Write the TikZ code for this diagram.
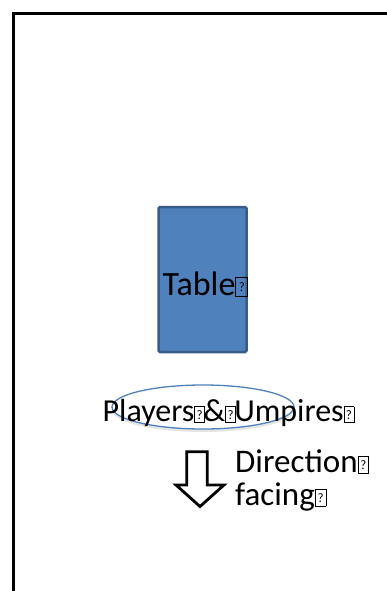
\documentclass[tikz,border=0pt]{standalone}
\usepackage{fontspec}
\setmainfont{Carlito}
\usetikzlibrary{shadows,shapes.geometric}
\definecolor{tblue}{HTML}{4F81BD}
\definecolor{tdark}{HTML}{385D8A}
\newcommand{\missbox}[2][15]{\makebox[#2pt][l]{\raisebox{-0.7pt}{\setlength\fboxsep{0pt}\setlength\fboxrule{0.8pt}\fbox{\parbox[b][#1pt][c]{#2pt}{\centering\fontsize{13}{13}\selectfont ?}}}}}
\tikzset{
  lbl/.style={font=\fontsize{32}{34}\selectfont, inner sep=0pt, text=black},
}
\begin{document}
\begin{tikzpicture}[x=1pt,y=-1pt]
\useasboundingbox (0,0) rectangle (387,591);
\fill[white] (0,0) rectangle (387,591);
% border
\draw[line width=3pt] (13.5,593) -- (13.5,13.5) -- (390,13.5);
% table
\node[draw=tdark, fill=tblue, line width=2.5pt, rounded corners=1.5pt, minimum width=88pt, minimum height=145pt, inner sep=0pt] (table) at (202.5,279.5) {};
\node[lbl, font=\fontsize{34}{36}\selectfont, anchor=base west] (tabletxt) at (162.5,295) {Table\missbox[18]{11}};
% ellipse
\node[ellipse, draw=tblue, fill=white, line width=1.3pt, minimum width=182pt, minimum height=44pt,
  drop shadow={shadow xshift=0pt, shadow yshift=-3pt, opacity=0.2, fill=gray}] (ell) at (203,407) {};
\node[lbl, anchor=base west] (players) at (102.5,421.5) {Players\missbox{9}\&\missbox{9}Umpires\missbox{9}};
% arrow
\draw[line width=2.8pt, line join=miter] (186.7,451.7) coordinate (a1) -- (207.3,451.7) -- (207.3,485) -- (224,485) -- (200,506.5) -- (176,485) -- (186.7,485) -- cycle;
% direction text
\node[lbl, font=\fontsize{33}{35}\selectfont, anchor=base west] (dir) at (235,472.5) {Direction\missbox[16]{10}};
\node[lbl, font=\fontsize{33}{35}\selectfont, anchor=base west] (fac) at (235,505) {facing\missbox[16]{10}};
\end{tikzpicture}
\end{document}
